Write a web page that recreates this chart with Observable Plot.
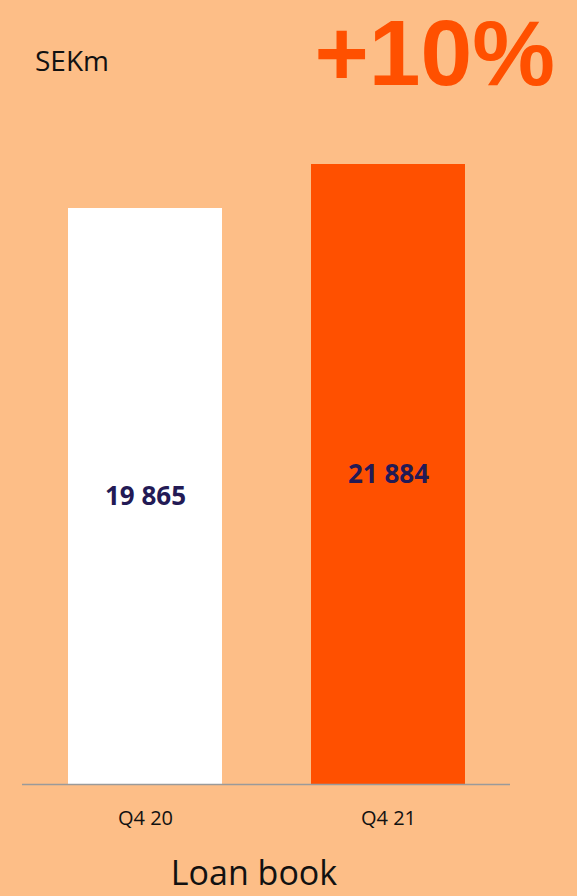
<!DOCTYPE html>
<html>
<head>
<meta charset="utf-8">
<script src="https://cdn.jsdelivr.net/npm/d3@7"></script>
<script src="https://cdn.jsdelivr.net/npm/@observablehq/plot@0.6"></script>
<style>
  html, body { margin: 0; padding: 0; background: #FDBE87; }
  #page { position: relative; width: 577px; height: 896px; background: #FDBE87; overflow: hidden; font-family: "Open Sans", sans-serif; }
  #header { position: relative; height: 120px; }
  #unit { position: absolute; left: 35px; top: 46px; font-size: 28px; line-height: 1; color: #111; }
  #change { position: absolute; right: 22px; top: 7px; font-family: "Liberation Sans", Arial, sans-serif; font-size: 93px; line-height: 1; font-weight: 700; color: #FF5000; }
  #chart svg { display: block; }
  #caption { position: absolute; left: 0; width: 508px; top: 855px; text-align: center; font-size: 34px; line-height: 1; color: #111; }
</style>
</head>
<body>
<div id="page">
  <div id="header">
    <div id="unit">SEKm</div>
    <div id="change">+10%</div>
  </div>
  <div id="chart"></div>
  <div id="caption">Loan book</div>
</div>
<script>
// Data
const categories = ["Q4 20", "Q4 21"];
const values = [19865, 21884];
const valueLabels = ["19 865", "21 884"];
const barColors = ["#FFFFFF", "#FF5000"];
const axisMin = -6565; // visual baseline of the original (truncated) value axis

const data = categories.map((c, i) => ({
  cat: c, value: values[i], label: valueLabels[i], color: barColors[i],
  mid: (axisMin + values[i]) / 2
}));

const chart = Plot.plot({
  width: 577,
  height: 720,
  marginTop: 44,
  marginBottom: 56,
  marginLeft: 22,
  marginRight: 67,
  style: { background: "transparent", fontFamily: "Open Sans, sans-serif", overflow: "visible" },
  x: { domain: categories, range: [68, 466], paddingInner: 0.366, paddingOuter: 0, label: null, axis: null },
  y: { domain: [axisMin, d3.max(values)], axis: null },
  marks: [
    Plot.barY(data, { x: "cat", y1: axisMin, y2: "value", fill: "color" }),
    Plot.ruleY([axisMin], { stroke: "#9a9a9a", strokeWidth: 1.5 }),
    Plot.text(data, { x: "cat", y: "mid", text: "label", fill: "#231A55", fontSize: 26, fontWeight: 700 }),
    Plot.text(data, { x: "cat", y: axisMin, text: "cat", dy: 34, fill: "#111", fontSize: 20 })
  ]
});
document.getElementById("chart").appendChild(chart);
</script>
</body>
</html>
